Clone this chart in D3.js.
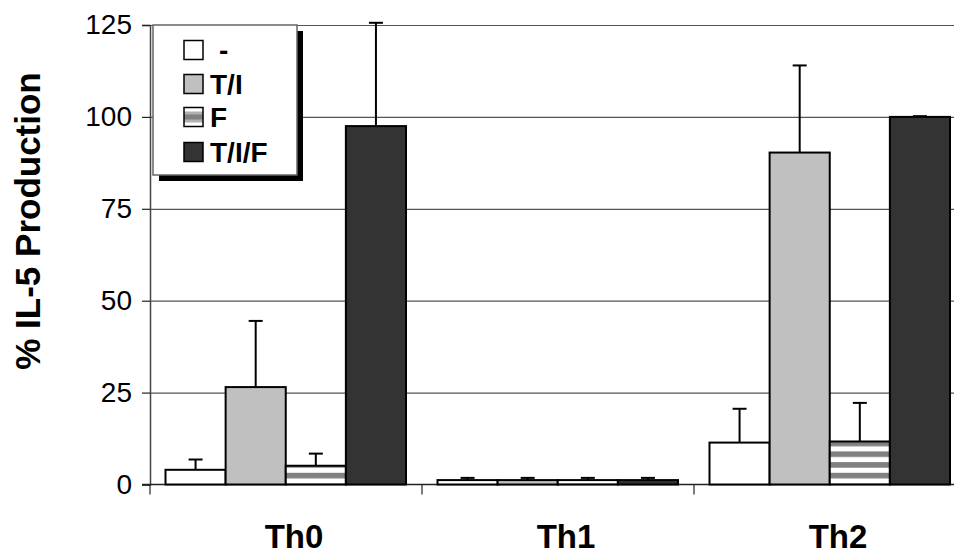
<!DOCTYPE html>
<html>
<head>
<meta charset="utf-8">
<script src="https://cdn.jsdelivr.net/npm/d3@7"></script>
<style>
  html, body { margin: 0; padding: 0; background: #fff; }
  svg { display: block; font-family: "Liberation Sans", Arial, sans-serif; }
</style>
</head>
<body>
<svg id="chart" width="954" height="556"></svg>
<script>
// ---- data ----
const categories = ["Th0", "Th1", "Th2"];
const seriesNames = ["-", "T/I", "F", "T/I/F"];
const seriesMinus = [4.0, 1.2, 11.4];
const seriesTI    = [26.5, 1.2, 90.3];
const seriesF     = [5.1, 1.2, 11.7];
const seriesTIF   = [97.5, 1.2, 100.0];
const errMinus = [6.8, 1.8, 20.6];
const errTI    = [44.5, 1.8, 114.0];
const errF     = [8.4, 1.8, 22.2];
const errTIF   = [125.6, 1.8, 100.2];
const yTicks = [0, 25, 50, 75, 100, 125];
const yTitle = "% IL-5 Production";

const values = [seriesMinus, seriesTI, seriesF, seriesTIF];
const errs = [errMinus, errTI, errF, errTIF];
const fills = ["#ffffff", "#c0c0c0", "url(#stripes)", "#333333"];
const legendFills = ["#ffffff", "#c0c0c0", "url(#stripesSmall)", "#333333"];

const svg = d3.select("#chart");

// patterns
const defs = svg.append("defs");
const p = defs.append("pattern").attr("id", "stripes")
  .attr("patternUnits", "userSpaceOnUse").attr("width", 10).attr("height", 10.7)
  .attr("y", 2);
p.append("rect").attr("width", 10).attr("height", 10.7).attr("fill", "#fff");
p.append("rect").attr("y", 0).attr("width", 10).attr("height", 5.6).attr("fill", "#808080");
const ps = defs.append("pattern").attr("id", "stripesSmall")
  .attr("patternUnits", "objectBoundingBox").attr("width", 1).attr("height", 1);
ps.append("rect").attr("width", 19).attr("height", 19).attr("fill", "#fff");
ps.append("rect").attr("y", 4).attr("width", 19).attr("height", 3).attr("fill", "#b0b0b0");
ps.append("rect").attr("y", 7).attr("width", 19).attr("height", 5).attr("fill", "#808080");
ps.append("rect").attr("y", 12).attr("width", 19).attr("height", 3).attr("fill", "#b0b0b0");

// scales
const plotLeft = 150, plotRight = 966, y0 = 484.5, yTop = 25;
const x0 = d3.scaleBand().domain(categories).range([plotLeft, plotRight]).padding(0);
const x1 = d3.scaleBand().domain(seriesNames).range([15.5, 256]).padding(0);
const y = d3.scaleLinear().domain([0, 125]).range([y0, yTop]);

// gridlines
svg.append("g")
  .attr("transform", `translate(${plotLeft},0)`)
  .call(d3.axisLeft(y).tickValues(yTicks.filter(t => t > 0)).tickSize(-(954 - plotLeft)).tickFormat(""))
  .call(g => g.select(".domain").remove())
  .call(g => g.selectAll("line").attr("stroke", "#555").attr("stroke-width", 1.2));

// y axis
const yAxis = svg.append("g")
  .attr("transform", `translate(${plotLeft},0)`)
  .call(d3.axisLeft(y).tickValues(yTicks).tickSize(8).tickPadding(10).tickFormat(d3.format("d")));
yAxis.select(".domain").attr("stroke", "#444").attr("stroke-width", 1.5);
yAxis.selectAll(".tick line").attr("stroke", "#222").attr("stroke-width", 1.2);
yAxis.selectAll("text").attr("font-size", 28).attr("fill", "#000")
  .attr("font-family", "'Liberation Sans', Arial, sans-serif");

// x axis
const xAxis = svg.append("g").attr("transform", `translate(0,${y0})`);
xAxis.append("line").attr("x1", plotLeft - 8).attr("x2", 954)
  .attr("stroke", "#222").attr("stroke-width", 1.5);
xAxis.selectAll(".ctick").data(categories).join("line")
  .attr("x1", d => x0(d)).attr("x2", d => x0(d))
  .attr("y1", 0).attr("y2", 10).attr("stroke", "#222").attr("stroke-width", 1.2);
xAxis.selectAll(".clabel").data(categories).join("text")
  .attr("x", d => x0(d) + x0.bandwidth() / 2 + 8)
  .attr("y", 63)
  .attr("text-anchor", "middle")
  .attr("font-size", 33).attr("font-weight", "bold")
  .text(d => d);

// bars
const barData = [];
categories.forEach((c, ci) => {
  seriesNames.forEach((s, si) => {
    barData.push({ c, s, si, v: values[si][ci], e: errs[si][ci] });
  });
});

const bars = svg.append("g");
bars.selectAll("rect").data(barData).join("rect")
  .attr("x", d => x0(d.c) + x1(d.s))
  .attr("y", d => y(d.v))
  .attr("width", x1.bandwidth())
  .attr("height", d => y(0) - y(d.v))
  .attr("fill", d => fills[d.si])
  .attr("stroke", "#000").attr("stroke-width", 2);

// error bars
const eb = svg.append("g").attr("stroke", "#000").attr("stroke-width", 2);
eb.selectAll(".v").data(barData).join("line")
  .attr("x1", d => x0(d.c) + x1(d.s) + x1.bandwidth() / 2)
  .attr("x2", d => x0(d.c) + x1(d.s) + x1.bandwidth() / 2)
  .attr("y1", d => y(d.v)).attr("y2", d => y(d.e));
eb.selectAll(".cap").data(barData).join("line")
  .attr("x1", d => x0(d.c) + x1(d.s) + x1.bandwidth() / 2 - 7)
  .attr("x2", d => x0(d.c) + x1(d.s) + x1.bandwidth() / 2 + 7)
  .attr("y1", d => y(d.e)).attr("y2", d => y(d.e));

// y title
svg.append("text")
  .attr("transform", "translate(40,221) rotate(-90)")
  .attr("text-anchor", "middle")
  .attr("font-size", 35).attr("font-weight", "bold")
  .text(yTitle);

// legend
const lg = svg.append("g");
lg.append("rect").attr("x", 159).attr("y", 31).attr("width", 144).attr("height", 150).attr("fill", "#000");
lg.append("rect").attr("x", 153).attr("y", 25).attr("width", 144).attr("height", 150)
  .attr("fill", "#fff").attr("stroke", "#666").attr("stroke-width", 1.5);
const rowsY = [50, 84, 117, 152];
seriesNames.forEach((s, i) => {
  lg.append("rect").attr("x", 184).attr("y", rowsY[i] - 9.5).attr("width", 19).attr("height", 19)
    .attr("fill", legendFills[i]).attr("stroke", "#000").attr("stroke-width", 1.5);
  lg.append("text").attr("x", s === "-" ? 219 : 210).attr("y", rowsY[i] + 10)
    .attr("font-size", 28).attr("font-weight", "bold").text(s);
});
</script>
</body>
</html>
